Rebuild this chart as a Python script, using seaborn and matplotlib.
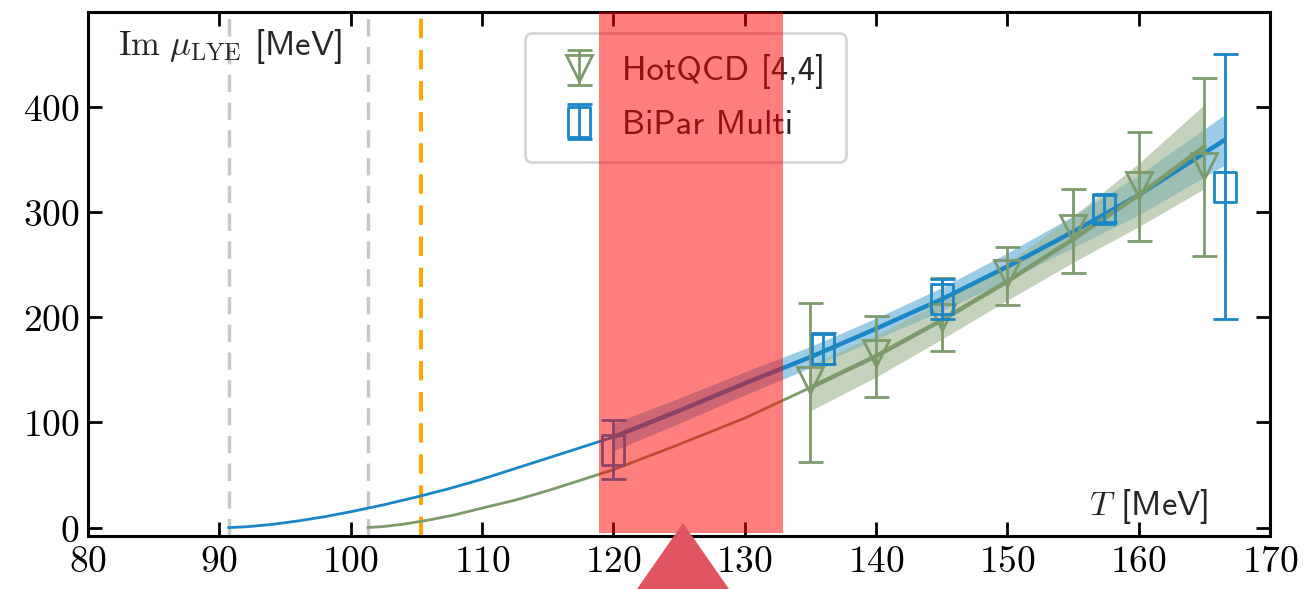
import numpy as np
import pandas as pd
import matplotlib
matplotlib.use("Agg")
import matplotlib.pyplot as plt
import seaborn as sns
from matplotlib.patches import Polygon
from matplotlib.path import Path

# ---------------- data ----------------
x_ticks = [80, 90, 100, 110, 120, 130, 140, 150, 160, 170]
y_ticks = [0, 100, 200, 300, 400]

# BiPar Multi data points
bipar_T = [120.0, 136.0, 145.0, 157.4, 166.6]
bipar_val = [74, 170, 217, 303, 324]
bipar_err = [28, 15, 19, 13, 126]

# HotQCD [4,4] data points
hot_T = [135, 140, 145, 150, 155, 160, 165]
hot_val = [140, 166, 200, 242, 285, 326, 344]
hot_err_lo = [78, 42, 32, 30, 43, 54, 86]
hot_err_hi = [73, 35, 37, 25, 37, 50, 83]

# BiPar fit curve (extrapolated part, then fitted part with band)
blue_T = [90.7, 92, 94, 96, 98, 100, 102.5, 105, 107.5, 110, 112.5, 115, 117.5,
          120, 125, 130, 135, 140, 145, 150, 155, 160, 166.5]
blue_val = [0, 0.7, 3, 6.3, 10.3, 15, 21.6, 29, 37, 46, 56, 66, 76,
            86, 111, 137, 162, 189, 217, 248, 281, 316, 368]
blue_band = [0, 0, 0, 0, 0, 0, 0, 0, 0, 0, 0, 0, 0,
             13, 12, 11, 10, 10, 11, 13, 15, 19, 24]
blue_fit_start = 120

# HotQCD fit curve
green_T = [101.3, 102.5, 104, 106, 108, 110, 112.5, 115, 117.5, 120, 125, 130,
           135, 140, 145, 150, 155, 160, 165]
green_val = [0, 1, 3.2, 7.3, 12.3, 18.5, 26, 35, 45, 55, 79, 104,
             133, 163, 197, 234, 274, 316, 362]
green_band = [0, 0, 0, 0, 0, 0, 0, 0, 0, 0, 0, 0,
              22, 20, 18, 18, 22, 30, 40]
green_fit_start = 135

T_edges = [90.7, 101.3]     # grey dashed lines
T_orange = 105.35           # orange dashed line
highlight_T = [118.9, 132.9]

blue = "#1a86c6"
green = "#7d9a6c"

# ---------------- figure ----------------
sns.set_theme(style="ticks")
plt.rcParams["mathtext.fontset"] = "cm"
plt.rcParams["font.family"] = ["DejaVu Sans"]

fig = plt.figure(figsize=(13.06, 5.89), dpi=100)
ax = fig.add_axes([0.0674, 0.09, 0.905, 0.8896])

df_b = pd.DataFrame({"T": blue_T, "v": blue_val, "e": blue_band})
df_g = pd.DataFrame({"T": green_T, "v": green_val, "e": green_band})

for df, start, col, bcol in [(df_b, blue_fit_start, blue, "#5aaad8"),
                             (df_g, green_fit_start, green, "#9fb58f")]:
    ext = df[df["T"] <= start]
    fit = df[df["T"] >= start]
    sns.lineplot(data=ext, x="T", y="v", ax=ax, color=col, lw=2.0, zorder=3)
    ax.fill_between(fit["T"], fit["v"] - fit["e"], fit["v"] + fit["e"],
                    color=bcol, alpha=0.6, lw=0, zorder=2)
    sns.lineplot(data=fit, x="T", y="v", ax=ax, color=col, lw=3.2, zorder=3)

for t in T_edges:
    ax.axvline(t, color="#c8c8c8", ls=(0, (5, 3)), lw=2.5, zorder=1)
ax.axvline(T_orange, color="#ffa500", ls=(0, (5, 3)), lw=2.8, zorder=1)

# slightly tall open rectangle marker (as in the reference)
rect_marker = Path([(-0.78, -1), (0.78, -1), (0.78, 1), (-0.78, 1), (-0.78, -1)],
                   [Path.MOVETO, Path.LINETO, Path.LINETO, Path.LINETO, Path.CLOSEPOLY])

h1 = ax.errorbar(hot_T, hot_val, yerr=[hot_err_lo, hot_err_hi], fmt="v",
                 mfc="none", mec=green, ecolor=green, color=green, ms=19,
                 mew=2.0, capsize=9, elinewidth=2.0, capthick=2.0, zorder=4)
h2 = ax.errorbar(bipar_T, bipar_val, yerr=bipar_err, fmt="none",
                 ecolor=blue, elinewidth=2.0, capsize=9, capthick=2.0, zorder=5)
m2 = ax.plot(bipar_T, bipar_val, ls="none", marker=rect_marker, ms=21,
             mfc="none", mec=blue, mew=2.0, zorder=5)[0]

ax.set_xlim(80, 170)
ax.set_ylim(-8, 490)
ax.set_xticks(x_ticks)
ax.set_xticklabels([f"${t}$" for t in x_ticks])
ax.set_yticks(y_ticks)
ax.set_yticklabels([f"${t}$" for t in y_ticks])
ax.tick_params(direction="in", length=10, width=2, labelsize=27,
               top=True, right=True, pad=6, colors="black")
for s in ax.spines.values():
    s.set_linewidth(2.2)
    s.set_color("black")
ax.set_xlabel("")
ax.set_ylabel("")

ax.text(0.0254, 0.918, r"$\mathrm{Im}\ \mu_{\mathrm{LYE}}$ [MeV]",
        transform=ax.transAxes, fontsize=25, va="baseline", ha="left",
        family="cmss10")
ax.text(0.948, 0.04, r"$T$ [MeV]",
        transform=ax.transAxes, fontsize=25, va="baseline", ha="right",
        family="cmss10")

leg = ax.legend([h1, (h2, m2)], ["HotQCD [4,4]", "BiPar Multi"],
                loc="upper left", bbox_to_anchor=(0.3697, 0.96), borderaxespad=0,
                prop={"family": "cmss10", "size": 25}, frameon=True,
                fancybox=True, handletextpad=0.3, handlelength=1.9,
                borderpad=0.6, labelspacing=0.6)
leg.get_frame().set_edgecolor("#cccccc")
leg.get_frame().set_linewidth(2)

# highlight overlay
ax.axvspan(highlight_T[0], highlight_T[1], ymin=0.006, ymax=1.0,
           color="red", alpha=0.5, lw=0, zorder=10)
tri = Polygon([[637 / 1306, 0], [683 / 1306, 66 / 589], [729 / 1306, 0]],
              closed=True, transform=fig.transFigure, color="#e05560",
              lw=0, zorder=20)
fig.add_artist(tri)

fig.savefig("out.png", dpi=100)
